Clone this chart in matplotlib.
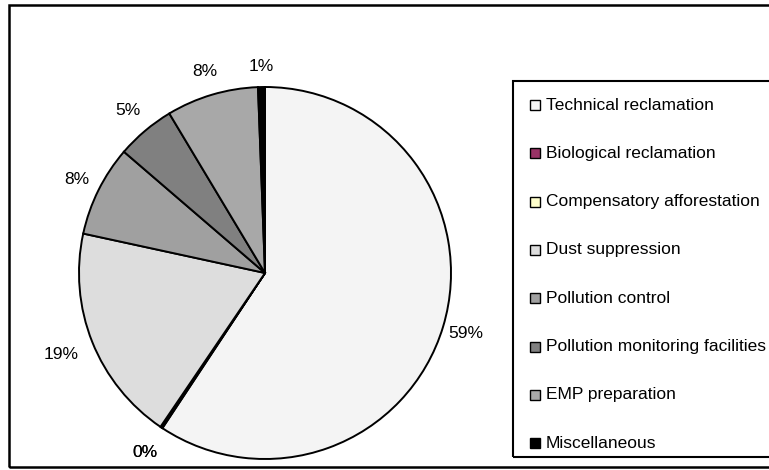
import matplotlib
matplotlib.use("Agg")
import matplotlib.pyplot as plt
from matplotlib.patches import Rectangle
import numpy as np

plt.rcParams['font.family'] = ['Liberation Sans', 'DejaVu Sans']

categories = [
    "Technical reclamation",
    "Biological reclamation",
    "Compensatory afforestation",
    "Dust suppression",
    "Pollution control",
    "Pollution monitoring facilities",
    "EMP preparation",
    "Miscellaneous",
]
shares = [59.3, 0.1, 0.1, 18.9, 7.9, 5.1, 8.0, 0.6]
colors = ["#F4F4F4", "#993366", "#FFFFCC", "#DDDDDD",
          "#A0A0A0", "#808080", "#A8A8A8", "#000000"]

# radial distance of each percentage label, in pie radii
label_dist = [1.13, 1.16, 1.16, 1.18, 1.13, 1.14, 1.13, 1.11]

W, H = 769, 470
fig = plt.figure(figsize=(W / 100, H / 100), dpi=100)
ax = fig.add_axes([0, 0, 1, 1])

cx, cy, r = 265, H - 273, 186
wedges, _ = ax.pie(
    shares, colors=colors, startangle=90, counterclock=False,
    center=(cx, cy), radius=r,
    wedgeprops=dict(edgecolor="black", linewidth=1.4),
)
ax.set_xlim(0, W)
ax.set_ylim(0, H)
ax.set_aspect("auto")
ax.axis("off")

# percentage labels placed outside the wedges; slices that round to 0%
# and sit next to each other share one label position
total = sum(shares)
pct = [100 * v / total for v in shares]
starts = np.concatenate([[0], np.cumsum(pct)[:-1]])
ends = np.cumsum(pct)
label_frac = []
i = 0
while i < len(pct):
    j = i
    if round(pct[i]) == 0:
        while j + 1 < len(pct) and round(pct[j + 1]) == 0:
            j += 1
        m = (starts[i] + ends[j]) / 2
        label_frac += [m] * (j - i + 1)
    else:
        label_frac.append((starts[i] + ends[i]) / 2)
    i = j + 1

for f, p, d in zip(label_frac, pct, label_dist):
    ang = np.deg2rad(90 - 3.6 * f)
    ax.text(cx + d * r * np.cos(ang), cy + d * r * np.sin(ang),
            f"{p:.0f}%", fontsize=12.5, ha="center", va="center")

# outer chart frame
ax.add_patch(Rectangle((9, H - 467), 800, 462, fill=False,
                       edgecolor="black", linewidth=1.8, zorder=0))

# legend box
lx, ly_top, ly_bot = 513, 81, 457
ax.add_patch(Rectangle((lx, H - ly_bot), 300, ly_bot - ly_top, fill=False,
                       edgecolor="black", linewidth=1.5, zorder=5))
y0, step = 105, 48.3
for i, (name, col) in enumerate(zip(categories, colors)):
    yc = H - (y0 + i * step)
    ax.add_patch(Rectangle((530, yc - 5), 10, 10, facecolor=col,
                           edgecolor="black", linewidth=1.0, zorder=6))
    ax.text(546, yc, name, fontsize=12.5, va="center", ha="left", zorder=6)

fig.savefig("out.png", dpi=100)
